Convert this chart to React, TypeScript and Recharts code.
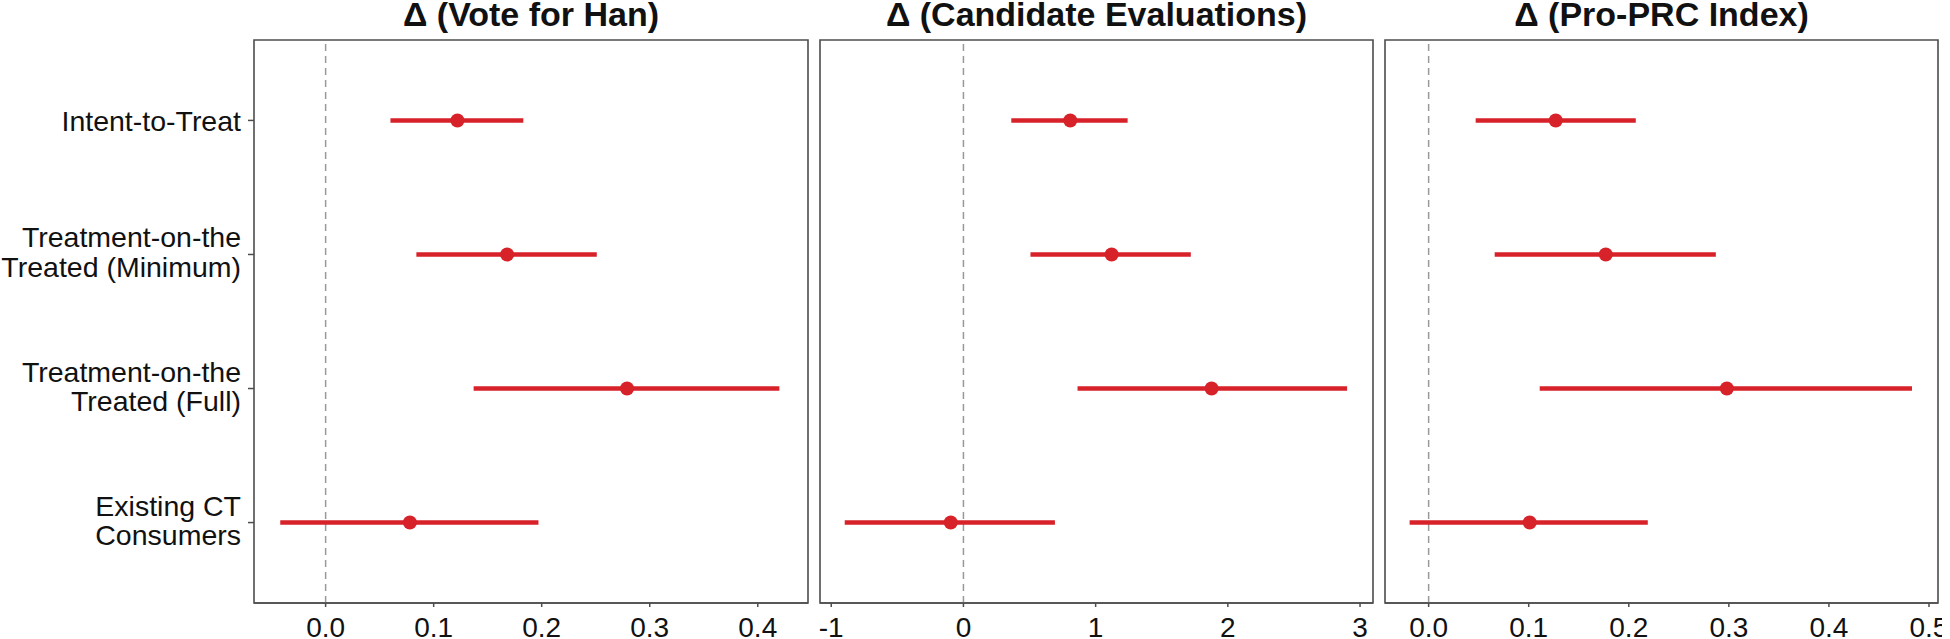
import { ScatterChart, Scatter, XAxis, YAxis, ErrorBar, ReferenceLine, ReferenceArea } from 'recharts'

const categories = ['Intent-to-Treat', 'Treatment-on-the\nTreated (Minimum)', 'Treatment-on-the\nTreated (Full)', 'Existing CT\nConsumers']

const voteEst = [0.122, 0.168, 0.279, 0.078]
const voteLo = [0.06, 0.084, 0.137, -0.042]
const voteHi = [0.183, 0.251, 0.42, 0.197]

const evalEst = [0.808, 1.121, 1.877, -0.096]
const evalLo = [0.362, 0.507, 0.863, -0.898]
const evalHi = [1.242, 1.72, 2.902, 0.692]

const prcEst = [0.127, 0.177, 0.298, 0.101]
const prcLo = [0.047, 0.066, 0.111, -0.019]
const prcHi = [0.207, 0.287, 0.483, 0.219]

const voteTicks = [0, 0.1, 0.2, 0.3, 0.4]
const evalTicks = [-1, 0, 1, 2, 3]
const prcTicks = [0, 0.1, 0.2, 0.3, 0.4, 0.5]

const RED = '#d7222a'
const FRAME = '#4d4d4d'
const FONT = '"Liberation Sans", Arial, sans-serif'

function rows(est: number[], lo: number[], hi: number[]) {
  return est.map((e, i) => ({ row: i + 1, est: e, err: [e - lo[i], hi[i] - e] }))
}

function CatTick(props: any) {
  const { x, y, payload } = props
  const lines = categories[payload.value - 1].split('\n')
  const offs = lines.length === 1 ? [11] : [-7, 22.5]
  return (
    <text x={x} y={y} textAnchor="end" fontSize={28.5} fontFamily={FONT} fill="#111">
      {lines.map((l, i) => (
        <tspan key={i} x={x} y={y + offs[i]}>{l}</tspan>
      ))}
    </text>
  )
}

function Dot(props: any) {
  return <circle cx={props.cx} cy={props.cy} r={7} fill={RED} />
}

function Panel({ title, left, width, yWidth, data, domain, ticks, fmt, showY }: any) {
  return (
    <div style={{ position: 'absolute', left, top: 0, width, height: 639 }}>
      <div style={{ position: 'absolute', left: yWidth, right: 4, top: 0, textAlign: 'center', fontFamily: FONT, fontWeight: 'bold', fontSize: 34, lineHeight: '28px', color: '#111' }}>
        {title}
      </div>
      <ScatterChart width={width} height={639} margin={{ top: 40, right: 4, bottom: 0, left: showY ? 0 : 4 }}>
        <XAxis type="number" dataKey="est" domain={domain} ticks={ticks} allowDataOverflow height={36}
          tickFormatter={fmt} tickSize={4} tickMargin={10} stroke={FRAME} strokeWidth={1.5}
          tick={{ fill: '#111', fontSize: 28, fontFamily: FONT }} interval={0} />
        <YAxis type="number" dataKey="row" domain={[0.4, 4.6]} reversed ticks={[1, 2, 3, 4]} interval={0}
          hide={!showY} width={showY ? yWidth : 0} axisLine={false} tickSize={6} tickMargin={7}
          tickLine={{ stroke: FRAME, strokeWidth: 1.5 }} tick={<CatTick />} allowDataOverflow />
        <ReferenceArea x1={domain[0]} x2={domain[1]} y1={0.4} y2={4.6} fill="none" stroke={FRAME} strokeWidth={1.6} ifOverflow="visible" />
        <ReferenceLine x={0} stroke="#999" strokeDasharray="7 5" strokeWidth={1.5} />
        <Scatter data={data} shape={<Dot />} isAnimationActive={false}>
          <ErrorBar dataKey="err" direction="x" width={0} stroke={RED} strokeWidth={4.5} isAnimationActive={false} />
        </Scatter>
      </ScatterChart>
    </div>
  )
}

export default function App() {
  return (
    <div style={{ position: 'absolute', left: 0, top: 0, width: 1950, height: 639, background: '#fff' }}>
      <Panel title="Δ (Vote for Han)" left={0} width={812} yWidth={254} showY
        data={rows(voteEst, voteLo, voteHi)} domain={[-0.0663, 0.4465]} ticks={voteTicks} fmt={(v: number) => v.toFixed(1)} />
      <Panel title="Δ (Candidate Evaluations)" left={816} width={561} yWidth={4}
        data={rows(evalEst, evalLo, evalHi)} domain={[-1.085, 3.098]} ticks={evalTicks} fmt={(v: number) => String(v)} />
      <Panel title="Δ (Pro-PRC Index)" left={1381} width={561} yWidth={4}
        data={rows(prcEst, prcLo, prcHi)} domain={[-0.0436, 0.509]} ticks={prcTicks} fmt={(v: number) => v.toFixed(1)} />
    </div>
  )
}
